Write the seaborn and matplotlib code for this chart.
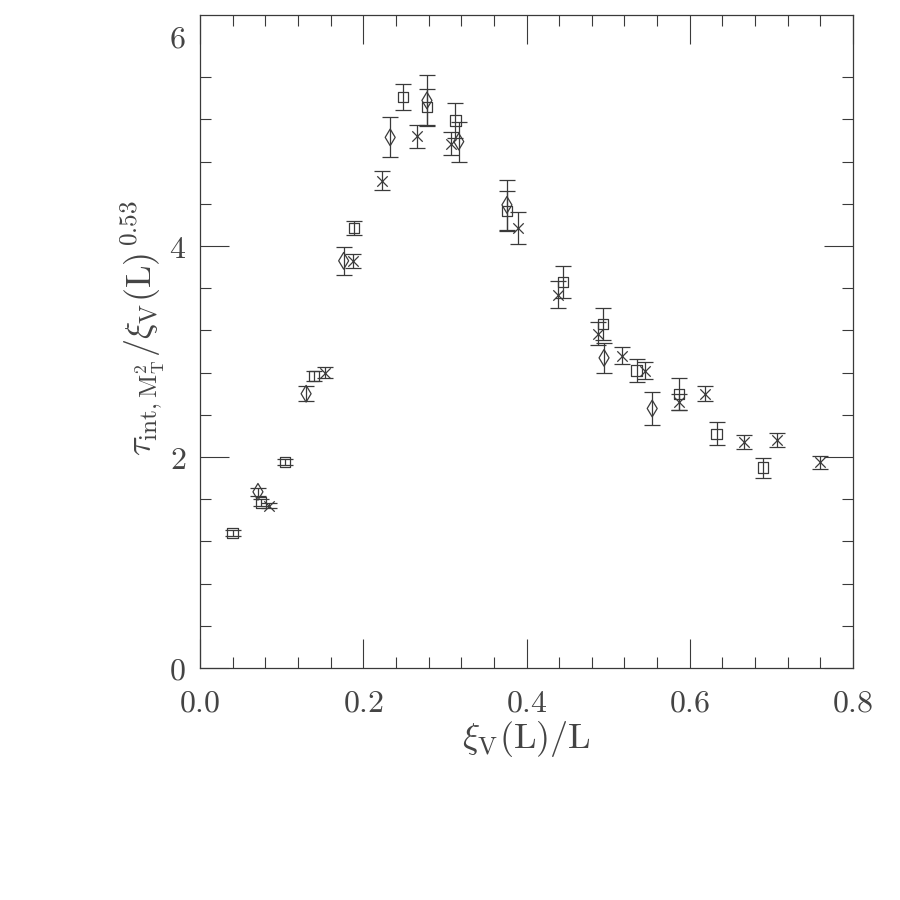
import matplotlib
matplotlib.use("Agg")
import matplotlib.pyplot as plt
import seaborn as sns
import pandas as pd
import numpy as np
from matplotlib.ticker import MultipleLocator, FixedLocator, FuncFormatter

# ---- data ----
sq_x = [0.040, 0.075, 0.104, 0.140, 0.189, 0.249, 0.278, 0.313, 0.376, 0.445, 0.494, 0.535, 0.587, 0.633, 0.690]
sq_y = [1.28, 1.57, 1.95, 2.77, 4.17, 5.41, 5.32, 5.19, 4.33, 3.66, 3.26, 2.82, 2.60, 2.22, 1.90]
sq_e = [0.03, 0.03, 0.03, 0.05, 0.07, 0.125, 0.17, 0.17, 0.19, 0.155, 0.15, 0.11, 0.15, 0.11, 0.095]

di_x = [0.071, 0.130, 0.176, 0.233, 0.278, 0.317, 0.376, 0.495, 0.554]
di_y = [1.67, 2.60, 3.86, 5.03, 5.38, 4.99, 4.39, 2.94, 2.46]
di_e = [0.04, 0.07, 0.13, 0.19, 0.24, 0.19, 0.24, 0.14, 0.16]

cr_x = [0.085, 0.153, 0.187, 0.223, 0.266, 0.308, 0.389, 0.438, 0.488, 0.517, 0.545, 0.587, 0.619, 0.666, 0.707, 0.759]
cr_y = [1.54, 2.80, 3.86, 4.62, 5.04, 4.97, 4.17, 3.54, 3.17, 2.96, 2.82, 2.52, 2.60, 2.14, 2.16, 1.95]
cr_e = [0.02, 0.05, 0.066, 0.09, 0.11, 0.11, 0.155, 0.13, 0.11, 0.08, 0.08, 0.075, 0.07, 0.065, 0.066, 0.06]

x_ticks = [0.0, 0.2, 0.4, 0.6, 0.8]
y_ticks = [0, 2, 4, 6]

sns.set_theme(style="ticks")
plt.rcParams["mathtext.fontset"] = "cm"
plt.rcParams["font.family"] = ["DejaVu Serif"]

col = "#3a3a3a"
fig = plt.figure(figsize=(9, 9), dpi=100)
ax = fig.add_axes([200/900, 1 - 668/900, 653/900, 653/900])

series = [
    (sq_x, sq_y, sq_e, "s", 7.5),
    (di_x, di_y, di_e, "d", 8.5),
    (cr_x, cr_y, cr_e, "x", 7.5),
]
for xs, ys, es, mk, ms in series:
    df = pd.DataFrame({"x": xs, "y": ys, "e": es})
    ax.errorbar(df["x"], df["y"], yerr=df["e"], fmt="none", ecolor=col,
                elinewidth=0.9, capsize=5.5, capthick=0.9, zorder=2)
    if mk == "x":
        sns.scatterplot(data=df, x="x", y="y", marker=mk, s=ms**2,
                        color=col, linewidth=0.9, ax=ax, zorder=3)
    else:
        sns.scatterplot(data=df, x="x", y="y", marker=mk, s=ms**2,
                        facecolor="none", edgecolor=col, linewidth=0.9,
                        ax=ax, zorder=3)

ax.set_xlim(0, 0.8)
ax.set_ylim(0, 6.19)
ax.xaxis.set_major_locator(FixedLocator(x_ticks))
ax.xaxis.set_minor_locator(MultipleLocator(0.04))
ax.yaxis.set_major_locator(FixedLocator(y_ticks))
ax.yaxis.set_minor_locator(MultipleLocator(0.4))
ax.xaxis.set_major_formatter(FuncFormatter(lambda v, p: r"$%.1f$" % v))
ax.yaxis.set_major_formatter(FuncFormatter(lambda v, p: r"$%d$" % round(v)))

ax.tick_params(which="both", direction="in", top=True, right=True,
               color=col, width=0.8, labelcolor="#444444", labelsize=23)
ax.tick_params(which="major", length=21, pad=10)
ax.tick_params(axis="x", which="major", pad=14)
ax.tick_params(which="minor", length=8)
for sp in ax.spines.values():
    sp.set_color(col)
    sp.set_linewidth(0.9)
    sp.set_visible(True)

# no tick mark at y = 6 in the reference (label only)
t6 = ax.yaxis.get_major_ticks()[-1]
t6.tick1line.set_visible(False)
t6.tick2line.set_visible(False)

ax.set_xlabel(r"$\xi_{\rm V}({\rm L})/{\rm L}$", fontsize=26, color="#444444")
ax.xaxis.set_label_coords(0.5, -0.078)
ax.xaxis.label.set_va("top")
ax.set_ylabel(r"$\tau_{\rm int,M_T^2}/\xi_{\rm V}({\rm L})^{\,0.53}$", fontsize=26,
              color="#444444")
ax.yaxis.set_label_coords(-0.05, 0.52)

fig.savefig("out.png", dpi=100)
